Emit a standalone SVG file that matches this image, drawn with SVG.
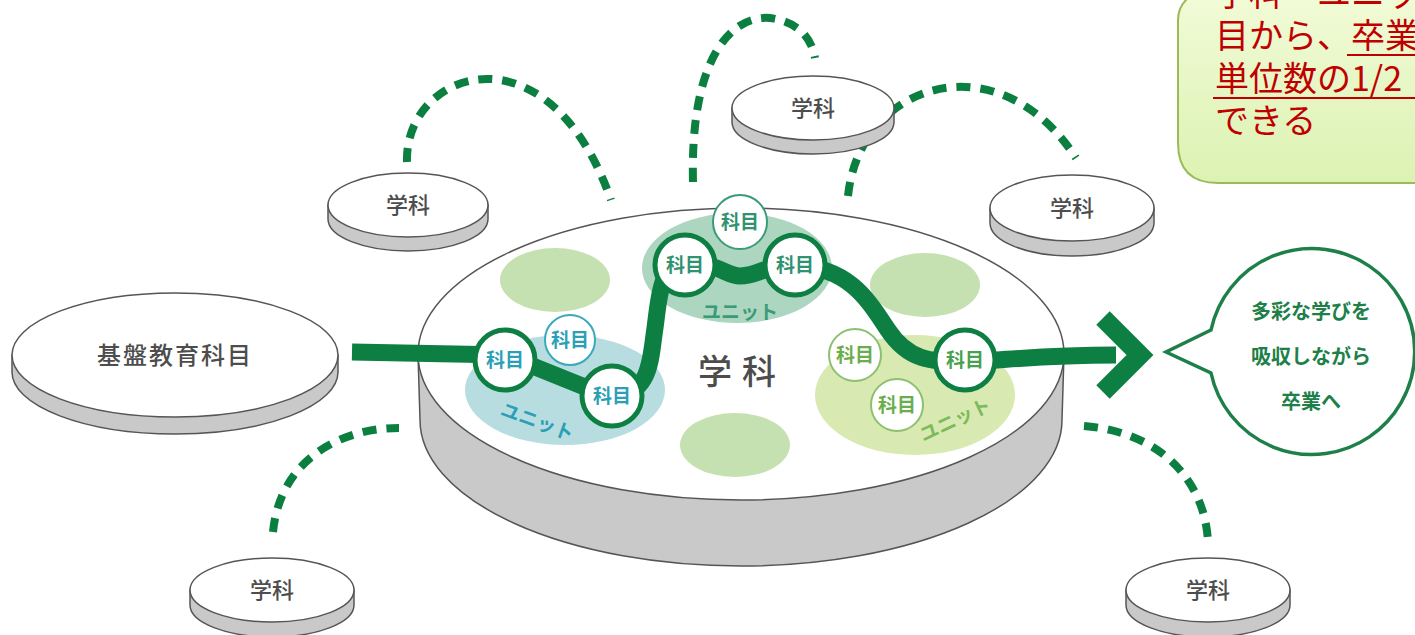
<svg xmlns="http://www.w3.org/2000/svg" width="1415" height="635" viewBox="0 0 1415 635">
<defs>
<linearGradient id="cg" x1="0" y1="0" x2="0" y2="1">
<stop offset="0" stop-color="#f4fcdc"/>
<stop offset="1" stop-color="#dcf2b2"/>
</linearGradient>
<style>
.side{fill:#c9c9c9;stroke:#555;stroke-width:1.5}
.top{fill:#fff;stroke:#555;stroke-width:1.5}
.dtxt{font-family:"Noto Sans CJK JP","Noto Sans",sans-serif;fill:#4d4d4d;text-anchor:middle;font-weight:500}
.dash{fill:none;stroke:#0b7f3f;stroke-width:8;stroke-dasharray:14 10}
.big{fill:#fff;stroke:#0e7f42;stroke-width:5}
.k{font-family:"Noto Sans CJK JP","Noto Sans",sans-serif;font-size:19px;text-anchor:middle;font-weight:700}
.u{font-family:"Noto Sans CJK JP","Noto Sans",sans-serif;font-size:19px;text-anchor:middle;font-weight:700}
.bt{font-family:"Noto Sans CJK JP","Noto Sans",sans-serif;font-size:20px;text-anchor:middle;fill:#1d8048;font-weight:700}
.ct{font-family:"Noto Sans CJK JP","Noto Sans",sans-serif;font-size:34px;fill:#c00000}
</style>
</defs>

<g id="connectors">
<path class="dash" d="M407,162 C404,70 548,20 611,200"/>
<path class="dash" d="M693,182 C690,60 730,15 770,18 C800,22 812,40 815,58"/>
<path class="dash" d="M848,196 C860,80 1000,40 1076,158"/>
<path class="dash" d="M273,532 C280,460 340,428 399,428"/>
<path class="dash" d="M1084,426 C1160,432 1205,480 1208,542"/>
</g>

<g id="disc-kiban">
<path class="side" d="M12,355 L12,372 A163,62 0 0 0 338,372 L338,355 Z"/>
<ellipse class="top" cx="175" cy="355" rx="163" ry="62"/>
<text class="dtxt" x="175" y="364" font-size="24" letter-spacing="2">基盤教育科目</text>
</g>

<g id="disc-tl">
<path class="side" d="M328,205 L328,219 A80,32 0 0 0 488,219 L488,205 Z"/>
<ellipse class="top" cx="408" cy="205" rx="80" ry="32"/>
<text class="dtxt" x="408" y="213" font-size="22">学科</text>
</g>

<g id="disc-tc">
<path class="side" d="M732,108 L732,122 A81,32 0 0 0 894,122 L894,108 Z"/>
<ellipse class="top" cx="813" cy="108" rx="81" ry="32"/>
<text class="dtxt" x="813" y="116" font-size="22">学科</text>
</g>

<g id="disc-r">
<path class="side" d="M990,208 L990,223 A82,33 0 0 0 1154,223 L1154,208 Z"/>
<ellipse class="top" cx="1072" cy="208" rx="82" ry="33"/>
<text class="dtxt" x="1072" y="216" font-size="22">学科</text>
</g>

<g id="disc-bl">
<path class="side" d="M190,590 L190,605 A82,32 0 0 0 354,605 L354,590 Z"/>
<ellipse class="top" cx="272" cy="590" rx="82" ry="32"/>
<text class="dtxt" x="272" y="598" font-size="22">学科</text>
</g>

<g id="disc-br">
<path class="side" d="M1126,590 L1126,605 A82,32 0 0 0 1290,605 L1290,590 Z"/>
<ellipse class="top" cx="1208" cy="590" rx="82" ry="32"/>
<text class="dtxt" x="1208" y="598" font-size="22">学科</text>
</g>

<g id="disc-main">
<path class="side" d="M418,354 L420,420 A321,146 0 0 0 1062,420 L1064,354 Z"/>
<ellipse class="top" cx="741" cy="354" rx="323" ry="146"/>
<ellipse cx="555" cy="280" rx="55" ry="32" fill="#c6e1b1"/>
<ellipse cx="925" cy="285" rx="55" ry="32" fill="#c6e1b1"/>
<ellipse cx="735" cy="445" rx="55" ry="32" fill="#c6e1b1"/>
<ellipse cx="565" cy="390" rx="100" ry="55" fill="#b7dde0"/>
<ellipse cx="737" cy="268" rx="95" ry="55" fill="#acd6c0"/>
<ellipse cx="915" cy="395" rx="100" ry="60" fill="#d8e9b2"/>
<text class="dtxt" x="742" y="384" font-size="34" letter-spacing="10">学科</text>
<text class="u" fill="#2b9fb6" transform="translate(535,428) rotate(20)">ユニット</text>
<text class="u" fill="#3b9a78" x="740" y="319">ユニット</text>
<text class="u" fill="#7cba5b" transform="translate(958,426) rotate(-25)">ユニット</text>
</g>

<g id="path-main">
<path d="M352,352 L505,355 L612,398 C652,392 650,360 655,328 C660,290 660,268 685,265 C720,262 725,276 740,276 C760,276 770,262 795,265 C850,268 868,300 888,330 C908,360 930,362 965,362 C1010,360 1040,355 1116,355" fill="none" stroke="#0e7f42" stroke-width="17"/>
<path d="M1103,318 L1140,355 L1103,392" fill="none" stroke="#0e7f42" stroke-width="19"/>
</g>

<g id="c2"><circle cx="570" cy="340" r="25" fill="#fff" stroke="#3aa9b8" stroke-width="2"/><text class="k" x="570" y="347" fill="#2b9fb6">科目</text></g>
<g id="c1"><circle class="big" cx="505" cy="360" r="30"/><text class="k" x="505" y="367" fill="#2b9fb6">科目</text></g>
<g id="c3"><circle class="big" cx="612" cy="396" r="30"/><text class="k" x="612" y="403" fill="#2b9fb6">科目</text></g>
<g id="c5"><circle cx="740" cy="222" r="27" fill="#fff" stroke="#3b9a78" stroke-width="2"/><text class="k" x="740" y="229" fill="#2f9270">科目</text></g>
<g id="c4"><circle class="big" cx="685" cy="265" r="30"/><text class="k" x="685" y="272" fill="#2f9270">科目</text></g>
<g id="c6"><circle class="big" cx="795" cy="265" r="30"/><text class="k" x="795" y="272" fill="#2f9270">科目</text></g>
<g id="c7"><circle cx="855" cy="355" r="26" fill="#fff" stroke="#8cc070" stroke-width="2"/><text class="k" x="855" y="362" fill="#6aad4c">科目</text></g>
<g id="c9"><circle cx="897" cy="405" r="26" fill="#fff" stroke="#8cc070" stroke-width="2"/><text class="k" x="897" y="412" fill="#6aad4c">科目</text></g>
<g id="c8"><circle class="big" cx="965" cy="360" r="30"/><text class="k" x="965" y="367" fill="#48a050">科目</text></g>

<g id="bubble">
<path d="M1211,330 L1166,352 L1211,373 A103,103 0 1 0 1211,330 Z" fill="#fff" stroke="#1d8048" stroke-width="3.5"/>
<text class="bt" x="1311" y="319">多彩な学びを</text>
<text class="bt" x="1311" y="364">吸収しながら</text>
<text class="bt" x="1311" y="409">卒業へ</text>
</g>

<g id="callout">
<path d="M1190,-30 L1186,0 Q1178,8 1178,20 L1178,143 Q1178,183 1218,183 L1430,183 L1430,-30 Z" fill="url(#cg)" stroke="#9bbb59" stroke-width="2"/>
<text class="ct" x="1215" y="6">学科・ユニットの科</text>
<text class="ct" x="1215" y="48">目から、卒業</text>
<text class="ct" x="1215" y="91">単位数の1/2</text>
<text class="ct" x="1215" y="133">できる</text>
<line x1="1347" y1="55" x2="1415" y2="55" stroke="#c00000" stroke-width="2"/>
<line x1="1213" y1="98" x2="1415" y2="98" stroke="#c00000" stroke-width="2"/>
</g>
</svg>
